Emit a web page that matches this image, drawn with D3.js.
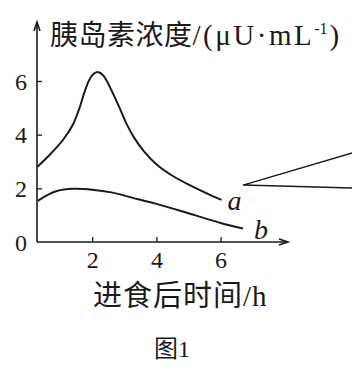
<!DOCTYPE html>
<meta charset="utf-8">
<body style="margin:0;background:#fff">
<script src="https://cdn.jsdelivr.net/npm/d3@7"></script>
<script>

var width = 352,
  height = 377;

// curve a (upper) and b (lower): [hours, concentration]
var curveA = [[0.29,2.8],[0.7,3.28],[1.1,3.82],[1.4,4.38],[1.6,4.98],[1.75,5.55],[1.9,6.02],[2.05,6.27],[2.2,6.33],[2.35,6.2],[2.5,5.9],[2.66,5.5],[2.87,4.95],[3.07,4.4],[3.3,3.9],[3.6,3.4],[4.0,2.9],[4.5,2.47],[5.1,2.08],[5.7,1.74],[6.03,1.57]];
var curveB = [[0.3,1.53],[0.6,1.75],[0.9,1.9],[1.4,1.98],[2.0,1.95],[2.6,1.85],[3.4,1.6],[4.0,1.42],[5.0,1.07],[6.0,0.71],[6.7,0.5]];
var curveNames = ["a", "b"];
var xTicks = [2, 4, 6];
var yTicks = [0, 2, 4, 6];
// part of the neighbouring figure's pointer, cut off at the right edge
var calloutPts = [[10.1,3.32],[6.7,2.12],[10.1,2.01]];

var x = d3.scaleLinear().domain([0.28, 8.1]).range([37, 288]);
var y = d3.scaleLinear().domain([0, 6]).range([242, 81]);

var svg = d3.select("body").append("svg")
  .attr("width", width)
  .attr("height", height)
  .style("font-family", "'Liberation Serif', 'DejaVu Serif', 'Noto Sans CJK SC', serif");

var ink = "#1a1a1a";

// axes
var yAxis = svg.append("g")
  .attr("transform", "translate(" + x(0.28) + ",0)")
  .call(d3.axisLeft(y).tickValues(yTicks).tickSize(-5).tickPadding(10).tickFormat(d3.format("d")));
var xAxis = svg.append("g")
  .attr("transform", "translate(0," + y(0) + ")")
  .call(d3.axisBottom(x).tickValues(xTicks).tickSize(-5).tickPadding(9).tickFormat(d3.format("d")));

[yAxis, xAxis].forEach(function(g) {
  g.select(".domain").remove();
  g.selectAll("line").attr("stroke", ink).attr("stroke-width", 1.3);
  g.selectAll("text").attr("fill", ink).style("font-size", "24px")
    .style("font-family", "'Liberation Serif', serif");
});
yAxis.selectAll(".tick").filter(function(d) { return d === 0; }).select("line").remove();
yAxis.selectAll("text").attr("dy", "0.34em");

// axis lines with arrows
var ax = svg.append("g").attr("stroke", ink).attr("stroke-width", 1.6).attr("fill", "none");
ax.append("path").attr("d", "M" + x(0.28) + "," + y(0) + "V22");
ax.append("path").attr("d", "M" + (x(0.28) - 3) + ",31L" + x(0.28) + ",22L" + (x(0.28) + 3) + ",31");
ax.append("path").attr("d", "M" + x(0.28) + "," + y(0) + "H288");
ax.append("path").attr("d", "M279," + (y(0) - 3) + "L288," + y(0) + "L279," + (y(0) + 3));

// curves
var line = d3.line()
  .x(function(d) { return x(d[0]); })
  .y(function(d) { return y(d[1]); })
  .curve(d3.curveCatmullRom.alpha(0.5));

var series = [curveA, curveB];
svg.selectAll(".curve")
  .data(series)
  .enter().append("path")
  .attr("class", "curve")
  .attr("d", line)
  .attr("fill", "none")
  .attr("stroke", ink)
  .attr("stroke-width", 2);

var labelOff = [[6, 10], [11, 10]];
svg.selectAll(".lab")
  .data(series)
  .enter().append("text")
  .attr("class", "lab")
  .attr("x", function(d, i) { return x(d[d.length - 1][0]) + labelOff[i][0]; })
  .attr("y", function(d, i) { return y(d[d.length - 1][1]) + labelOff[i][1]; })
  .style("font-size", "28px")
  .style("font-style", "italic")
  .attr("fill", ink)
  .text(function(d, i) { return curveNames[i]; });

// callout lines
svg.append("path")
  .attr("d", d3.line().x(function(d) { return x(d[0]); }).y(function(d) { return y(d[1]); })(calloutPts))
  .attr("fill", "none")
  .attr("stroke", ink)
  .attr("stroke-width", 1.5);

// titles
svg.append("text")
  .attr("x", 50).attr("y", 45)
  .attr("fill", ink)
  .style("font-size", "28px")
  .html("<tspan font-family='Noto Sans CJK SC' letter-spacing='0.5'>胰岛素浓度</tspan><tspan style='font-size:29px' letter-spacing='2.5'>/(μU·mL</tspan><tspan dy='-11' style='font-size:16px'>-1</tspan><tspan dx='2' dy='11' style='font-size:29px'>)</tspan>");

svg.append("text")
  .attr("x", 93).attr("y", 306)
  .attr("fill", ink)
  .attr("letter-spacing", 1)
  .style("font-size", "29px")
  .text("进食后时间/h");

svg.append("text")
  .attr("x", 172).attr("y", 357)
  .attr("text-anchor", "middle")
  .attr("fill", ink)
  .style("font-size", "24px")
  .text("图1");

</script>
</body>
</html>
